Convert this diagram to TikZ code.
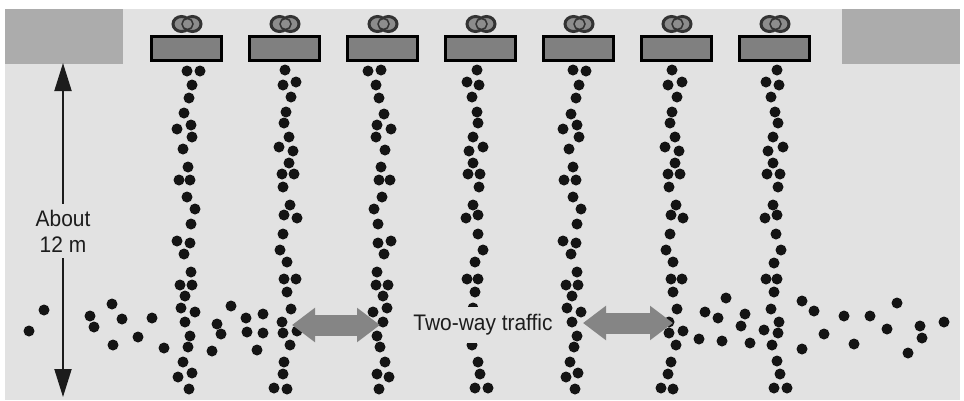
\documentclass[tikz,border=0pt]{standalone}
\usepackage{fontspec}
\setmainfont{Liberation Sans}
\newfontfamily\tagfont[FakeStretch=0.93]{Liberation Sans}
\usetikzlibrary{arrows.meta,positioning}
\definecolor{floor}{RGB}{226,226,226}
\definecolor{wall}{RGB}{172,172,172}
\definecolor{gatefill}{RGB}{128,128,128}
\definecolor{flowgray}{RGB}{133,133,133}
\definecolor{ink}{RGB}{28,28,28}
\tikzset{
  person/.style={fill=black!92},
  gate/.style={draw=black,line width=3pt,fill=gatefill,minimum width=70pt,minimum height=24pt,inner sep=0pt},
  coin/.style={draw=black!80,line width=3pt,fill=black!45},
  flow/.style={flowgray,line width=21pt,{Triangle[width=33pt,length=23pt]}-{Triangle[width=33pt,length=23pt]}},
  measure/.style={ink,line width=2pt,{Triangle[width=17pt,length=28pt]}-{Triangle[width=17pt,length=28pt]}},
  tag/.style={ink,fill=floor,align=center,font=\tagfont\fontsize{22.5}{26}\selectfont},
}

\begin{document}
\begin{tikzpicture}[x=1pt,y=-1pt]
  \useasboundingbox (0,0) rectangle (964,400);
  \fill[floor] (5,9) rectangle (960,400);
  \fill[wall] (5,9) rectangle (123,64);
  \fill[wall] (842,9) rectangle (960,64);
  % turnstiles with ticket readers
  \foreach \i in {1,...,7}{
    \pgfmathsetmacro{\xc}{186.5+98*(\i-1)}
    \node[gate] (gate\i) at (\xc,48.5) {};
    \draw[coin] (\xc-5,24) ellipse (8.5 and 7.5);
    \draw[coin] (\xc+6,24) ellipse (8.5 and 7.5);
    \draw[coin,fill=gatefill!90,line width=1.5pt] (\xc+1,24) circle (5.5);
  }
  % queues behind each gate
  \foreach \x/\y in {187/71,200/71,192/85,189/98,184/113,177/129,191/125,192/137,183/149,188/167,179/180,190/180,187/197,195/209,191/224,177/241,190/243,184/254,191/272,180/285,192/285,185/296,181/308,195/312,185/322,190/336,188/347,183/362,178/377,192/373,189/389,
    285/70,283/85,296/82,291/97,286/112,284/123,289/137,279/147,293/151,289/163,282/174,294/174,283/187,290/205,284/215,297/218,283/234,280/250,287/262,284/279,296/279,287/292,291/309,282/322,283/333,297/331,290/345,284/362,283/374,274/388,287/389,
    368/71,381/70,376/85,379/98,384/114,377/125,391/129,376/137,385/150,381/167,379/180,390/180,382/197,374/209,378/224,378/243,391/241,384/254,377/272,376/285,388/285,383/296,387/308,373/312,383/322,377/336,380/347,385/362,377/374,389/377,379/389,
    477/70,467/82,479/85,472/97,477/112,478/123,473/137,469/151,483/147,473/163,468/174,480/174,479/187,473/205,466/218,478/215,478/234,483/250,475/262,467/279,478/279,475/292,473/308,481/322,466/330,480/333,472/345,478/362,480/374,475/388,488/388,
    573/70,586/71,579/85,576/98,571/114,563/129,577/125,579/137,569/149,573/167,564/180,576/180,573/197,581/209,577/224,563/241,576/243,571/254,577/272,566/285,578/285,572/296,567/308,581/312,572/322,577/336,574/347,570/362,566/377,578/373,575/389,
    672/70,668/85,682/82,677/97,672/112,670/123,675/137,665/147,679/151,675/163,668/174,680/174,669/187,676/205,671/215,683/218,670/234,666/250,673/262,671/279,682/279,673/292,677/309,669/322,669/333,683/331,676/345,671/362,668/374,661/388,673/389,
    777/70,766/82,779/85,771/97,775/112,778/123,773/137,768/151,783/147,773/163,767/174,780/174,778/187,773/205,765/218,777/215,776/234,781/250,774/263,766/279,777/279,774/292,771/309,779/322,764/330,778/333,772/345,777/361,780/374,774/388,787/388}
    \fill[person] (\x,\y) circle (5.5);
  % crossing crowd
  \foreach \x/\y in {29/331,44/310,90/316,94/327,112/304,122/319,113/345,138/337,152/318,164/348,212/351,217/324,221/334,231/306,246/318,247/332,263/314,263/333,257/350,
    726/298,705/312,718/318,745/314,741/326,699/339,722/341,750/343,802/301,814/311,844/316,870/316,897/303,824/334,802/349,854/344,887/329,920/326,922/338,944/322,908/353}
    \fill[person] (\x,\y) circle (5.5);
  % two-way flow
  \coordinate (flowA) at (292,325);
  \coordinate (flowB) at (380,325);
  \coordinate (flowC) at (583,323);
  \coordinate (flowD) at (673,323);
  \draw[flow] (flowA) -- (flowB);
  \draw[flow] (flowC) -- (flowD);
  \node[tag,inner xsep=3pt,inner ysep=8pt] (traffic) at (483,325) {Two-way traffic};
  % depth of the queue area
  \coordinate (depthTop) at (63,63);
  \coordinate (depthBot) at (63,397);
  \draw[measure] (depthTop) -- (depthBot);
  \node[tag,inner xsep=2pt,inner ysep=6pt] (depth) at (63,231) {About\\12 m};
\end{tikzpicture}
\end{document}
